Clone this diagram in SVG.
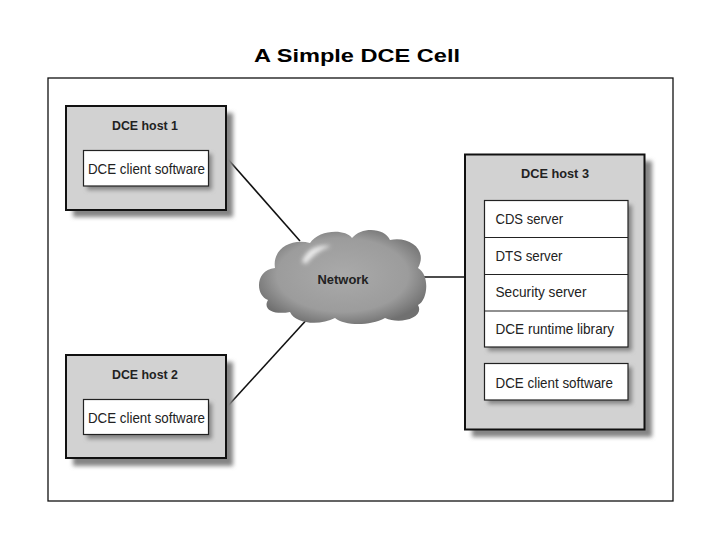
<svg xmlns="http://www.w3.org/2000/svg" width="720" height="540" viewBox="0 0 720 540">
<defs>
<style>
.host{fill:#d2d2d2;stroke:#111;stroke-width:2}
.box{fill:#fff;stroke:#222;stroke-width:1.2}
.shadow{fill:#858585;filter:url(#blur)}
.hl{font-family:"Liberation Sans",Arial,sans-serif;font-weight:bold;font-size:13px;fill:#222;text-anchor:middle}
.tx{font-family:"Liberation Sans",Arial,sans-serif;font-size:14.5px;fill:#222}
.conn{stroke:#111;stroke-width:1.6;fill:none}
</style>
<filter id="blur" x="-20%" y="-20%" width="140%" height="140%"><feGaussianBlur stdDeviation="2"/></filter>
<filter id="blur2" x="-50%" y="-50%" width="200%" height="200%"><feGaussianBlur stdDeviation="2"/></filter>
<radialGradient id="cg" cx="0.5" cy="0.48" r="0.56">
<stop offset="0" stop-color="#aaaaaa"/>
<stop offset="0.7" stop-color="#9c9c9c"/>
<stop offset="1" stop-color="#707070"/>
</radialGradient>
</defs>
<rect width="720" height="540" fill="#fff"/>
<text x="357" y="62" font-family="'Liberation Sans',Arial,sans-serif" font-weight="bold" font-size="19" text-anchor="middle" textLength="206" lengthAdjust="spacingAndGlyphs" fill="#000">A Simple DCE Cell</text>
<rect x="48" y="78" width="625" height="423" fill="#fff" stroke="#111" stroke-width="1.3"/>

<g id="connectors">
<line class="conn" x1="226" y1="157" x2="300" y2="241"/>
<line class="conn" x1="226" y1="408" x2="310" y2="316"/>
<line class="conn" x1="418" y1="277" x2="465" y2="277"/>
</g>

<g id="network">
<path d="M268,300 C255,295 255,270 275,268 C272,250 290,238 310,243 C318,230 345,228 352,238 C362,226 385,228 390,240 C410,236 428,250 418,268 C430,275 428,300 418,305 C425,318 400,325 385,318 C370,326 345,326 335,318 C320,326 295,324 290,312 C275,315 262,310 268,300 Z" fill="url(#cg)"/>
<path d="M302,262 C306,249 318,244 331,246 C320,250 312,256 306,264 Z" fill="#f4f4f4" opacity="0.9" filter="url(#blur2)"/>
<text x="343" y="284" class="hl" textLength="51" lengthAdjust="spacingAndGlyphs">Network</text>
</g>

<g id="host1">
<rect class="shadow" x="73" y="113" width="160" height="104"/>
<rect class="host" x="66" y="106" width="160" height="104"/>
<text x="145" y="130" class="hl" textLength="66" lengthAdjust="spacingAndGlyphs">DCE host 1</text>
<rect class="shadow" x="87" y="154" width="125" height="36"/>
<rect class="box" x="83.5" y="150.5" width="125" height="35.5"/>
<text x="88" y="174" class="tx" textLength="117" lengthAdjust="spacingAndGlyphs">DCE client software</text>
</g>

<g id="host2">
<rect class="shadow" x="73" y="362" width="160" height="104"/>
<rect class="host" x="66" y="355" width="160" height="103"/>
<text x="145" y="379" class="hl" textLength="66" lengthAdjust="spacingAndGlyphs">DCE host 2</text>
<rect class="shadow" x="87" y="403" width="125" height="36"/>
<rect class="box" x="83.5" y="399.5" width="125" height="35"/>
<text x="88" y="423" class="tx" textLength="117" lengthAdjust="spacingAndGlyphs">DCE client software</text>
</g>

<g id="host3">
<rect class="shadow" x="472" y="161" width="180" height="276"/>
<rect class="host" x="465" y="154.5" width="179.5" height="275"/>
<text x="555" y="178" class="hl" textLength="68" lengthAdjust="spacingAndGlyphs">DCE host 3</text>
<rect class="shadow" x="488" y="205" width="144" height="146"/>
<rect class="box" x="484.5" y="200.5" width="143.5" height="146.5"/>
<line x1="484.5" y1="237.5" x2="628" y2="237.5" stroke="#222" stroke-width="1.2"/>
<line x1="484.5" y1="274.5" x2="628" y2="274.5" stroke="#222" stroke-width="1.2"/>
<line x1="484.5" y1="311" x2="628" y2="311" stroke="#222" stroke-width="1.2"/>
<text x="495.5" y="224" class="tx" textLength="67.5" lengthAdjust="spacingAndGlyphs">CDS server</text>
<text x="495.5" y="261" class="tx" textLength="67" lengthAdjust="spacingAndGlyphs">DTS server</text>
<text x="495.5" y="297" class="tx" textLength="91" lengthAdjust="spacingAndGlyphs">Security server</text>
<text x="495.5" y="334" class="tx" textLength="118.5" lengthAdjust="spacingAndGlyphs">DCE runtime library</text>
<rect class="shadow" x="488" y="367" width="144" height="37"/>
<rect class="box" x="484.5" y="363.5" width="143.5" height="36.5"/>
<text x="495.5" y="388" class="tx" textLength="117.5" lengthAdjust="spacingAndGlyphs">DCE client software</text>
</g>
</svg>
